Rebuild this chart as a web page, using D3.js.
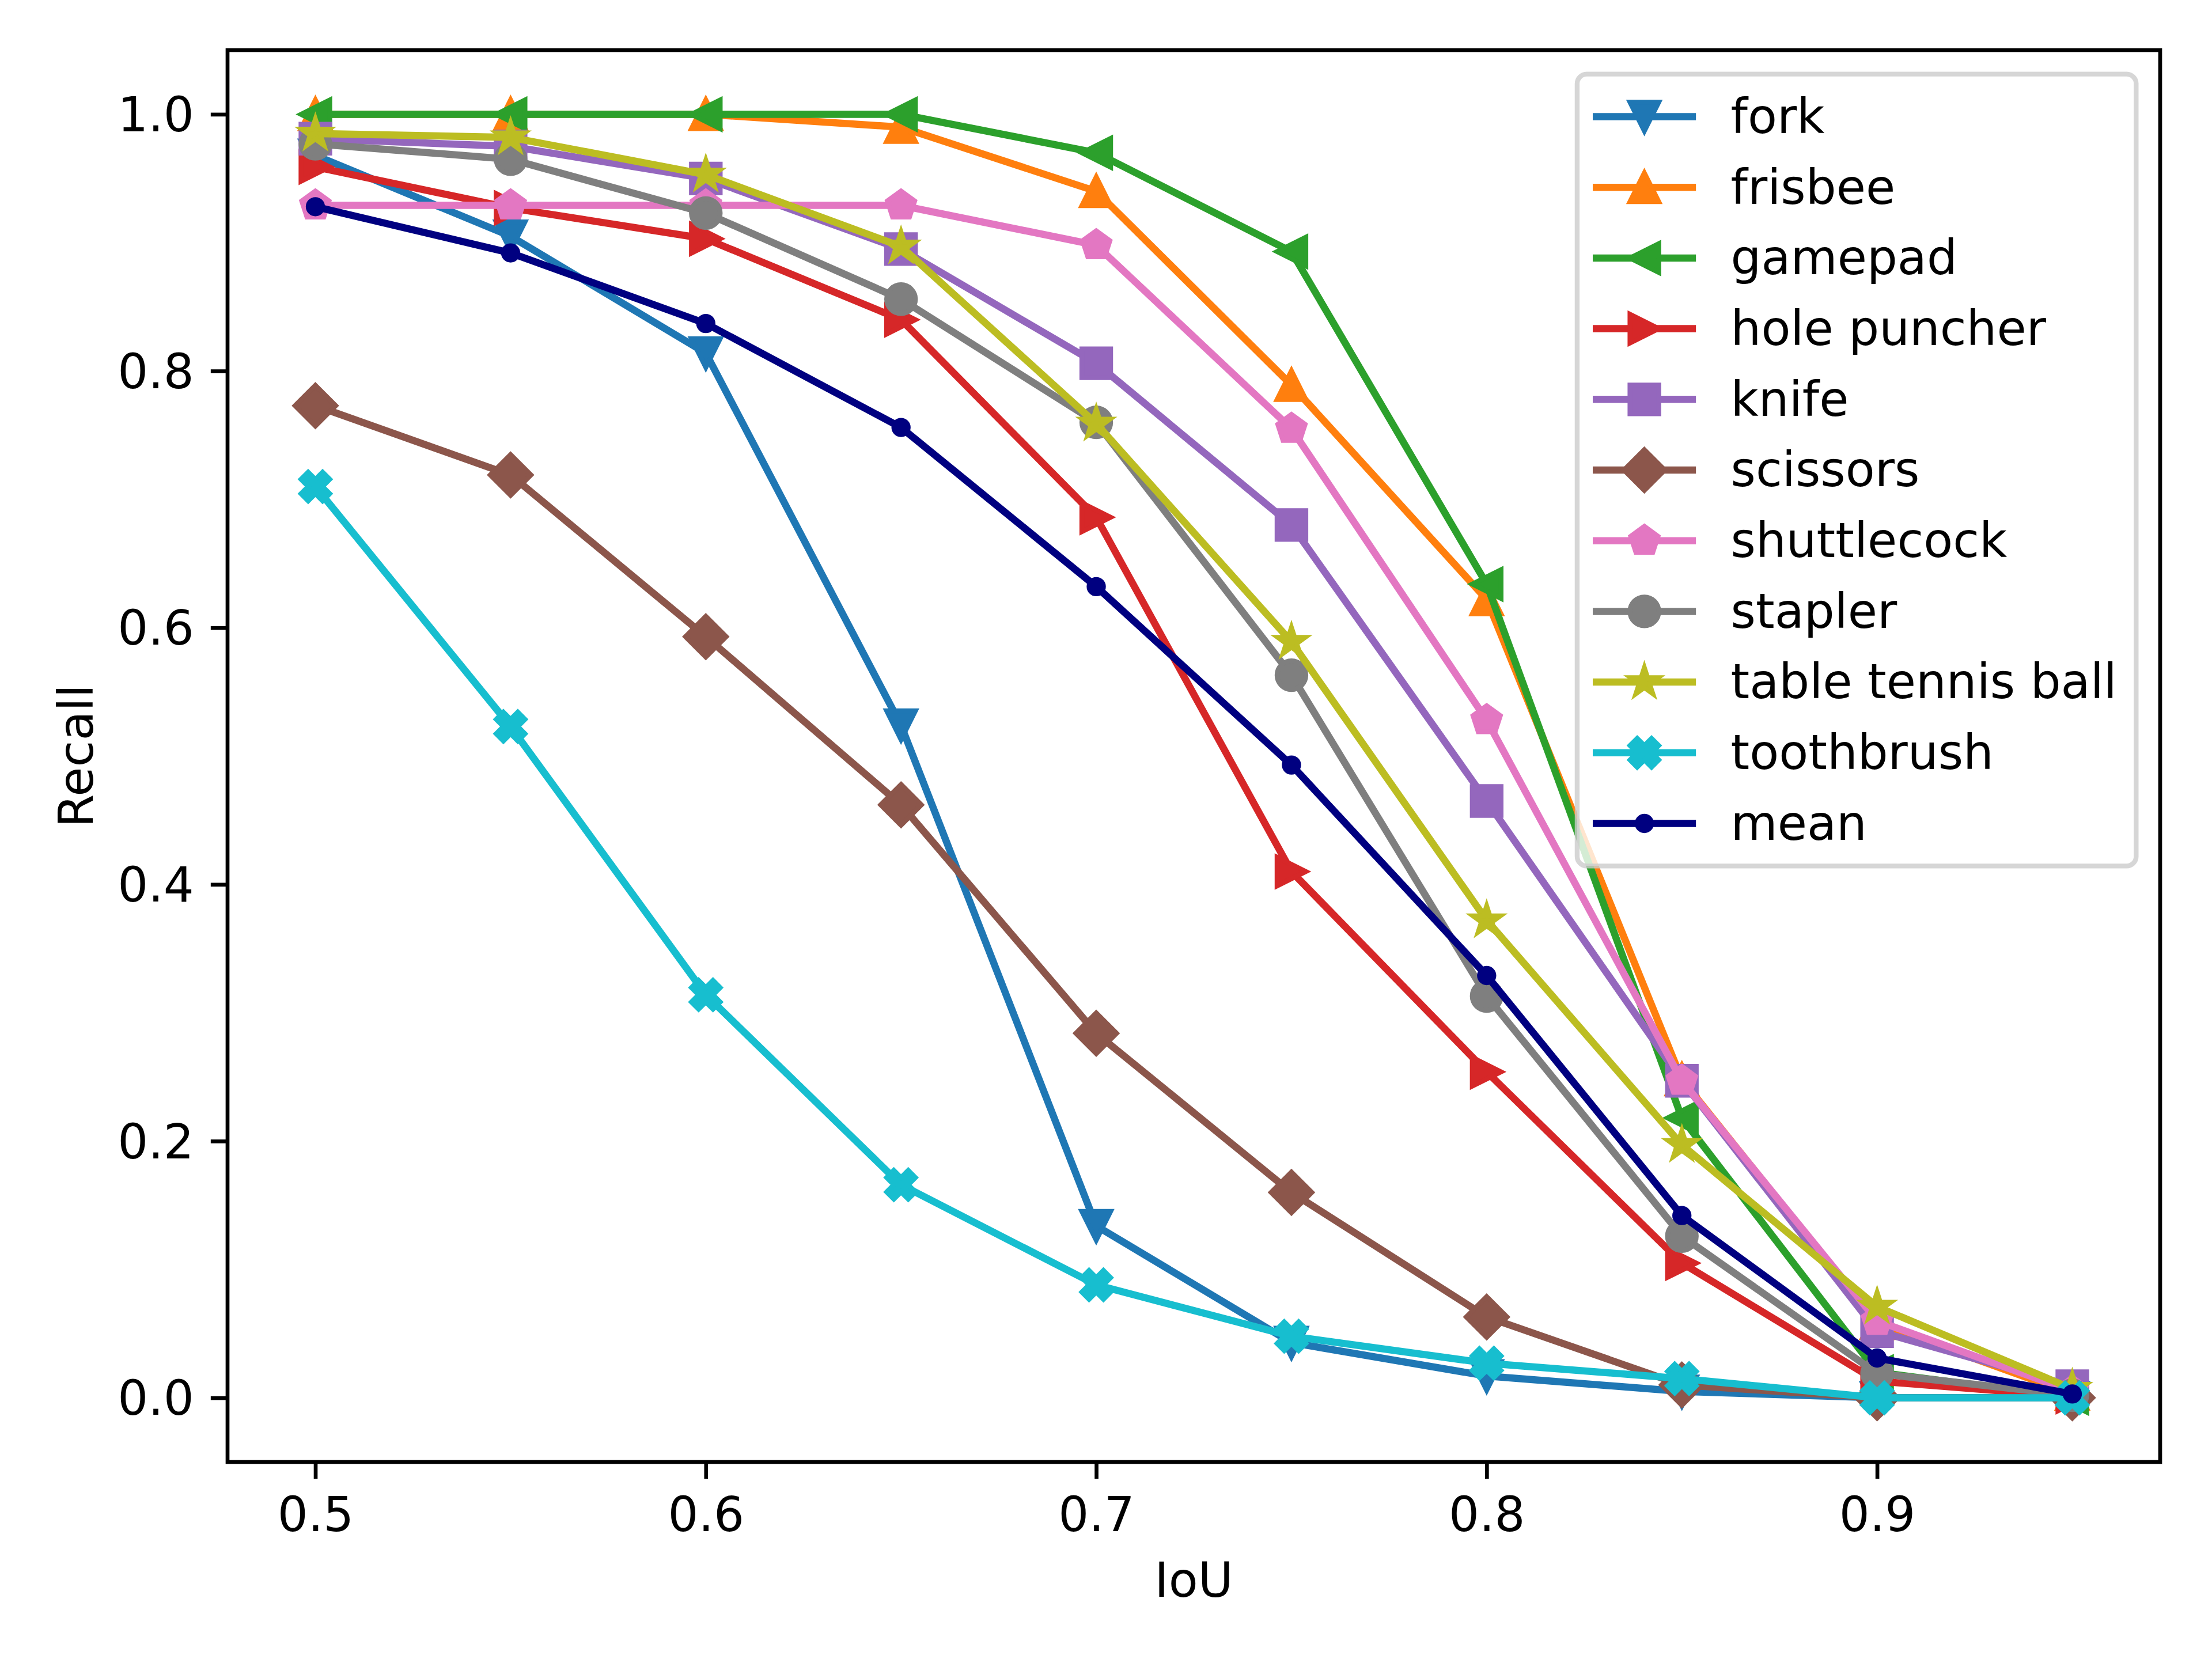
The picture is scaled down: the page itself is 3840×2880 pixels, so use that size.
<!DOCTYPE html>
<html>
<head>
<meta charset="utf-8">
<script src="https://cdn.jsdelivr.net/npm/d3@7"></script>
<style>
  body { margin: 0; background: #fff; }
  svg { display: block; }
</style>
</head>
<body>
<div id="chart"></div>
<script>
/* global d3 */

// IoU thresholds along the x axis
var iou = [0.5, 0.55, 0.6, 0.65, 0.7, 0.75, 0.8, 0.85, 0.9, 0.95];

// recall per class
var fork            = [0.968, 0.905, 0.814, 0.524, 0.134, 0.043, 0.017, 0.005, 0.0, 0.0];
var frisbee         = [1.0, 1.0, 1.0, 0.990, 0.940, 0.789, 0.622, 0.248, 0.058, 0.003];
var gamepad         = [1.0, 1.0, 1.0, 1.0, 0.970, 0.893, 0.634, 0.218, 0.020, 0.0];
var holePuncher     = [0.959, 0.927, 0.903, 0.840, 0.686, 0.410, 0.254, 0.105, 0.013, 0.001];
var knife           = [0.981, 0.975, 0.950, 0.895, 0.806, 0.680, 0.465, 0.247, 0.052, 0.009];
var scissors        = [0.773, 0.719, 0.593, 0.462, 0.284, 0.160, 0.063, 0.010, 0.0, 0.0];
var shuttlecock     = [0.929, 0.929, 0.929, 0.929, 0.898, 0.755, 0.528, 0.247, 0.060, 0.005];
var stapler         = [0.977, 0.965, 0.923, 0.856, 0.760, 0.563, 0.313, 0.126, 0.019, 0.002];
var tableTennisBall = [0.985, 0.982, 0.953, 0.897, 0.759, 0.589, 0.372, 0.197, 0.071, 0.007];
var toothbrush      = [0.710, 0.523, 0.314, 0.166, 0.088, 0.048, 0.027, 0.015, 0.0, 0.0];
var mean            = [0.928, 0.892, 0.837, 0.756, 0.632, 0.493, 0.329, 0.142, 0.031, 0.003];

var names = ["fork", "frisbee", "gamepad", "hole puncher", "knife", "scissors",
             "shuttlecock", "stapler", "table tennis ball", "toothbrush", "mean"];
var values = [fork, frisbee, gamepad, holePuncher, knife, scissors,
              shuttlecock, stapler, tableTennisBall, toothbrush, mean];

var xTicks = [0.5, 0.6, 0.7, 0.8, 0.9];
var yTicks = [0.0, 0.2, 0.4, 0.6, 0.8, 1.0];

// look of each series (matplotlib tab10 + navy for the mean)
var colors  = ["#1f77b4", "#ff7f0e", "#2ca02c", "#d62728", "#9467bd", "#8c564b",
               "#e377c2", "#7f7f7f", "#bcbd22", "#17becf", "#000080"];
var markers = ["v", "^", "<", ">", "s", "D", "p", "o", "*", "X", "."];

var width = 3840,
    height = 2880,
    pt = 600 / 72,
    fontSize = 10 * pt,
    box = {left: 395, right: 3750, top: 87, bottom: 2538};

var svg = d3.select("#chart").append("svg")
    .attr("width", width)
    .attr("height", height)
    .style("font-family", "'DejaVu Sans', sans-serif");

svg.append("rect").attr("width", width).attr("height", height).attr("fill", "#fff");

// matplotlib style 5% margins on the data range
var pad = function(ext) {
    var m = (ext[1] - ext[0]) * 0.05;
    return [ext[0] - m, ext[1] + m];
};

var x = d3.scaleLinear().domain(pad(d3.extent(iou))).range([box.left, box.right]);
var y = d3.scaleLinear().domain(pad([d3.min(values, function(v) { return d3.min(v); }),
                                     d3.max(values, function(v) { return d3.max(v); })]))
    .range([box.bottom, box.top]);

// marker outlines, centred at 0,0, s = marker size in px
var markerPath = function(type, s) {
    var h = s / 2, p;
    var poly = function(pts) { return "M" + pts.map(function(q) { return q.join(","); }).join("L") + "Z"; };
    var circle = function(r) { return "M" + (-r) + ",0A" + r + "," + r + " 0 1,0 " + r + ",0A" + r + "," + r + " 0 1,0 " + (-r) + ",0Z"; };
    switch (type) {
        case "v": return poly([[0, h], [-h, -h], [h, -h]]);
        case "^": return poly([[0, -h], [-h, h], [h, h]]);
        case "<": return poly([[-h, 0], [h, -h], [h, h]]);
        case ">": return poly([[h, 0], [-h, -h], [-h, h]]);
        case "s": return poly([[-h, -h], [h, -h], [h, h], [-h, h]]);
        case "D":
            var d = s * Math.SQRT1_2;
            return poly([[0, -d], [d, 0], [0, d], [-d, 0]]);
        case "p":
            p = [];
            for (var i = 0; i < 5; i++) {
                var a = 2 * Math.PI * i / 5;
                p.push([h * Math.sin(a), -h * Math.cos(a)]);
            }
            return poly(p);
        case "*":
            p = [];
            for (var j = 0; j < 10; j++) {
                var b = Math.PI * j / 5, r = j % 2 ? h * 0.381966 : h;
                p.push([r * Math.sin(b), -r * Math.cos(b)]);
            }
            return poly(p);
        case "X":
            var k = s / 4;
            return poly([[-1, -2], [0, -1], [1, -2], [2, -1], [1, 0], [2, 1],
                         [1, 2], [0, 1], [-1, 2], [-2, 1], [-1, 0], [-2, -1]]
                         .map(function(q) { return [q[0] * k, q[1] * k]; }));
        case "o": return circle(h);
        case ".": return circle(h / 2);
    }
};

var markerSize = 6 * pt;

var line = d3.line()
    .x(function(d, i) { return x(iou[i]); })
    .y(function(d) { return y(d); });

var plot = svg.append("g");
values.forEach(function(v, si) {
    var g = plot.append("g").attr("class", "series");
    g.append("path")
        .attr("d", line(v))
        .attr("fill", "none")
        .attr("stroke", colors[si])
        .attr("stroke-width", 1.5 * pt)
        .attr("stroke-linejoin", "round")
        .attr("stroke-linecap", "square");
    g.selectAll(".mk").data(v).enter().append("path")
        .attr("class", "mk")
        .attr("transform", function(d, i) { return "translate(" + x(iou[i]) + "," + y(d) + ")"; })
        .attr("d", markerPath(markers[si], markerSize))
        .attr("fill", colors[si])
        .attr("stroke", colors[si])
        .attr("stroke-width", pt)
        .attr("stroke-linejoin", "miter");
});

// axes
var styleAxis = function(g) {
    g.select(".domain").remove();
    g.selectAll(".tick line").attr("stroke", "#000").attr("stroke-width", 0.8 * pt);
    g.selectAll(".tick text").attr("fill", "#000").style("font-size", fontSize + "px")
        .style("font-family", "'DejaVu Sans', sans-serif");
};

svg.append("g")
    .attr("transform", "translate(0," + box.bottom + ")")
    .call(d3.axisBottom(x).tickValues(xTicks).tickFormat(d3.format(".1f"))
        .tickSize(3.5 * pt).tickPadding(3.5 * pt))
    .call(styleAxis)
    .selectAll(".tick text").attr("dy", "0.74em");

svg.append("g")
    .attr("transform", "translate(" + box.left + ",0)")
    .call(d3.axisLeft(y).tickValues(yTicks).tickFormat(d3.format(".1f"))
        .tickSize(3.5 * pt).tickPadding(3.5 * pt))
    .call(styleAxis)
    .selectAll(".tick text").attr("dy", "0.35em");

svg.append("rect")
    .attr("x", box.left).attr("y", box.top)
    .attr("width", box.right - box.left).attr("height", box.bottom - box.top)
    .attr("fill", "none").attr("stroke", "#000").attr("stroke-width", 0.8 * pt);

svg.append("text")
    .attr("x", (box.left + box.right) / 2).attr("y", 2772)
    .attr("text-anchor", "middle").style("font-size", fontSize + "px")
    .text("IoU");

svg.append("text")
    .attr("transform", "translate(161," + (box.top + box.bottom) / 2 + ") rotate(-90)")
    .attr("text-anchor", "middle").style("font-size", fontSize + "px")
    .text("Recall");

// legend, upper right
var legend = svg.append("g");
var frame = legend.append("rect");
var labels = legend.selectAll(".lab").data(names).enter().append("text")
    .attr("class", "lab")
    .style("font-size", fontSize + "px")
    .text(function(d) { return d; });

var textW = d3.max(labels.nodes(), function(n) { return n.getComputedTextLength(); });
var borderPad = 0.4 * fontSize,
    handleLen = 2 * fontSize,
    handlePad = 0.8 * fontSize,
    rowH = 81,
    rowStep = 122.7,
    legRight = box.right - 0.5 * fontSize,
    legTop = box.top + 0.5 * fontSize,
    legW = borderPad * 2 + handleLen + handlePad + textW,
    legH = borderPad * 2 + rowH + rowStep * (names.length - 1),
    legLeft = legRight - legW;

frame.attr("x", legLeft).attr("y", legTop)
    .attr("width", legW).attr("height", legH)
    .attr("rx", 0.2 * fontSize).attr("ry", 0.2 * fontSize)
    .attr("fill", "#fff").attr("fill-opacity", 0.8)
    .attr("stroke", "#cccccc").attr("stroke-opacity", 0.8)
    .attr("stroke-width", pt);

var rowY = function(i) { return legTop + borderPad + rowH / 2 + i * rowStep; };

labels.attr("x", legLeft + borderPad + handleLen + handlePad)
    .attr("y", function(d, i) { return rowY(i) + 0.34 * fontSize; });

names.forEach(function(n, i) {
    var x0 = legLeft + borderPad;
    legend.append("line")
        .attr("x1", x0).attr("x2", x0 + handleLen)
        .attr("y1", rowY(i)).attr("y2", rowY(i))
        .attr("stroke", colors[i]).attr("stroke-width", 1.5 * pt)
        .attr("stroke-linecap", "square");
    legend.append("path")
        .attr("transform", "translate(" + (x0 + handleLen / 2) + "," + rowY(i) + ")")
        .attr("d", markerPath(markers[i], markerSize))
        .attr("fill", colors[i]).attr("stroke", colors[i])
        .attr("stroke-width", pt).attr("stroke-linejoin", "miter");
});
</script>
</body>
</html>
